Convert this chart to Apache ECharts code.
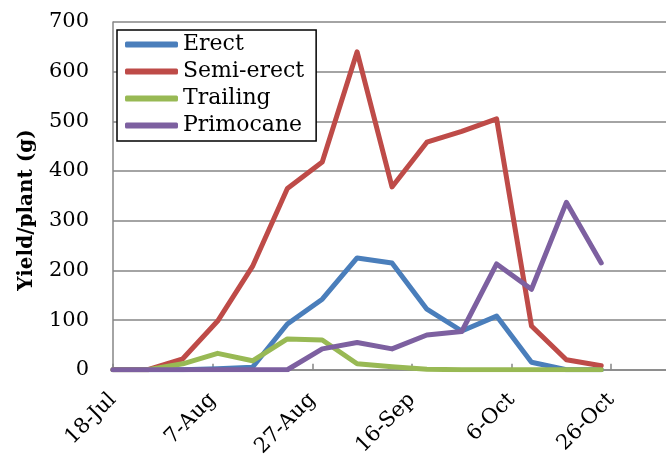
<!DOCTYPE html>
<html>
<head>
<meta charset="utf-8">
<script src="https://cdn.jsdelivr.net/npm/echarts@6/dist/echarts.min.js"></script>
<style>
  html, body { margin: 0; padding: 0; background: #fff; }
  #main { width: 666px; height: 460px; }
</style>
</head>
<body>
<div id="main"></div>
<script>
// picking dates (weekly) and yields per plant (g)
var sampleDates = ['2011-07-18', '2011-07-25', '2011-08-01', '2011-08-08', '2011-08-15',
    '2011-08-22', '2011-08-29', '2011-09-05', '2011-09-12', '2011-09-19',
    '2011-09-26', '2011-10-03', '2011-10-10', '2011-10-17', '2011-10-24'];
var erect     = [0, 0, 0, 2, 5, 92, 142, 225, 215, 122, 78, 108, 15, 0, 0];
var semiErect = [0, 0, 22, 98, 208, 365, 418, 640, 368, 458, 480, 505, 88, 20, 8];
var trailing  = [0, 0, 12, 33, 18, 62, 60, 12, 6, 1, 0, 0, 0, 0, 0];
var primocane = [0, 0, 0, 0, 0, 0, 42, 55, 42, 70, 77, 213, 162, 337, 215];
var seriesNames = ['Erect', 'Semi-erect', 'Trailing', 'Primocane'];
var yTicks = [0, 100, 200, 300, 400, 500, 600, 700];

var startDate = '2011-07-18';
var months = ['Jan','Feb','Mar','Apr','May','Jun','Jul','Aug','Sep','Oct','Nov','Dec'];
var DAY = 86400000;

function dayOffset(d) {
    return Math.round((Date.parse(d) - Date.parse(startDate)) / DAY);
}
function dateLabel(off) {
    var d = new Date(Date.parse(startDate) + off * DAY);
    return d.getUTCDate() + '-' + months[d.getUTCMonth()];
}
function pairs(values) {
    return values.map(function (v, i) { return [dayOffset(sampleDates[i]), v]; });
}

var font = 'DejaVu Serif';
var colors = ['#4A7EBB', '#BE4B48', '#98B954', '#7D60A0'];
var myChart = echarts.init(document.getElementById('main'));

function lineSeries(name, values) {
    return {
        name: name,
        type: 'line',
        data: pairs(values),
        symbol: 'none',
        lineStyle: { width: 5, cap: 'round', join: 'round' }
    };
}

var option = {
    animation: false,
    color: colors,
    grid: { left: 113, right: 0, top: 22, height: 350 },
    legend: {
        orient: 'vertical',
        left: 117,
        top: 30,
        padding: [1, 12, 2, 8],
        itemGap: 0,
        itemWidth: 53,
        itemHeight: 6,
        icon: 'roundRect',
        borderColor: '#000',
        borderWidth: 1.5,
        backgroundColor: '#fff',
        data: seriesNames,
        textStyle: { fontFamily: font, fontSize: 22, color: '#000', lineHeight: 27 }
    },
    xAxis: {
        type: 'value',
        min: 0,
        max: 111,
        interval: 20,
        axisLine: { show: true, lineStyle: { color: '#868686', width: 1.5 } },
        axisTick: { show: true, inside: true, length: 6, lineStyle: { color: '#868686', width: 1.5 } },
        splitLine: { show: false },
        axisLabel: {
            rotate: 45,
            margin: 27,
            fontFamily: font,
            fontSize: 21,
            color: '#000',
            showMaxLabel: false,
            formatter: function (v) { return v % 20 === 0 ? dateLabel(v) : ''; }
        }
    },
    yAxis: {
        type: 'value',
        min: yTicks[0],
        max: yTicks[yTicks.length - 1],
        interval: 100,
        axisLine: { show: true, lineStyle: { color: '#868686', width: 1.5 } },
        axisTick: { show: false },
        splitLine: { lineStyle: { color: '#868686', width: 1.5 } },
        axisLabel: { margin: 24, fontFamily: font, fontSize: 21, color: '#000' }
    },
    graphic: [{
        type: 'text',
        x: 27,
        y: 210,
        rotation: Math.PI / 2,
        style: {
            text: 'Yield/plant (g)',
            font: 'bold 20px "DejaVu Serif"',
            fill: '#000',
            textAlign: 'center',
            textVerticalAlign: 'middle'
        }
    }],
    series: [
        lineSeries(seriesNames[0], erect),
        lineSeries(seriesNames[1], semiErect),
        lineSeries(seriesNames[2], trailing),
        lineSeries(seriesNames[3], primocane)
    ]
};

myChart.setOption(option);
</script>
</body>
</html>
